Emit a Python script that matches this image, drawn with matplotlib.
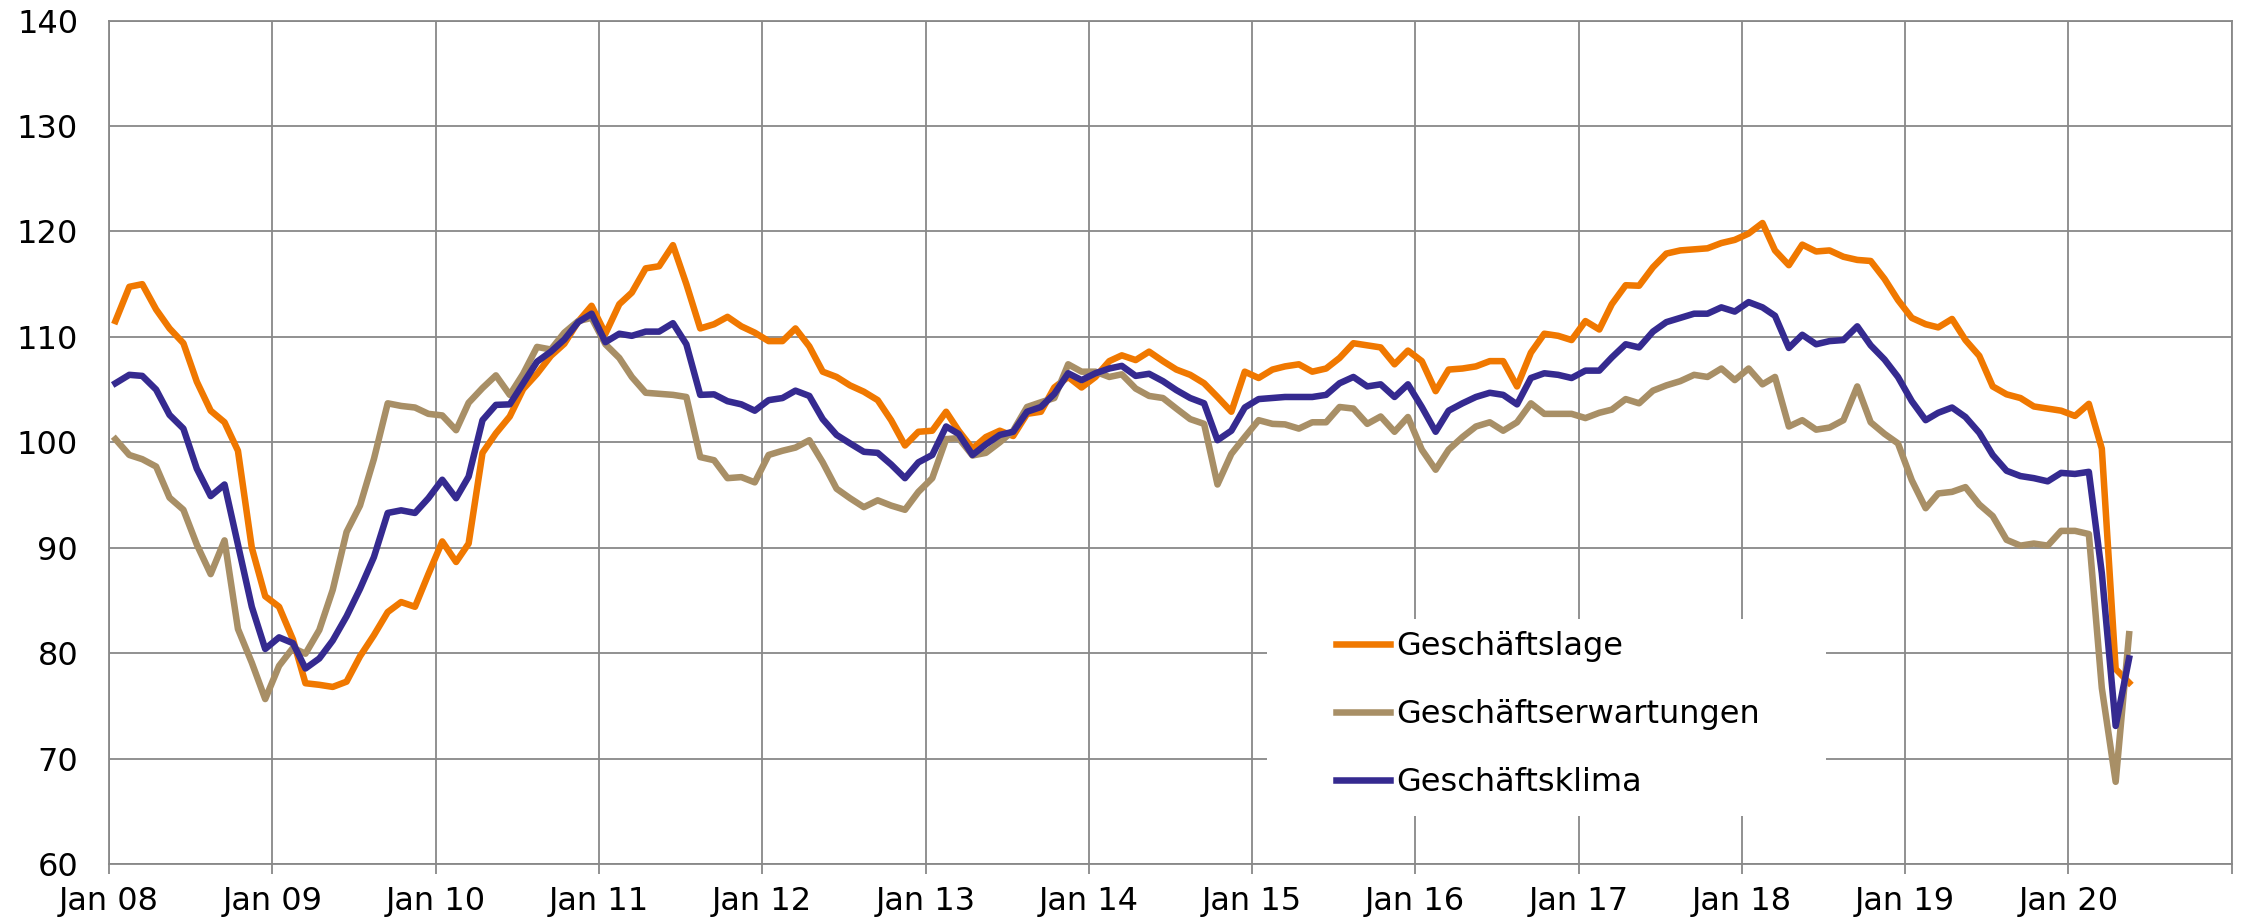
import pandas as pd
import matplotlib
matplotlib.use("Agg")
import matplotlib.pyplot as plt
from matplotlib.patches import Rectangle

# ifo-Werte, monatlich Jan 2008 - Mai 2020
lage = [
    111.5, 114.75, 115.0, 112.6, 110.8, 109.4, 105.75, 103.0, 101.9, 99.2, 90.0, 85.4,
    84.4, 81.3, 77.15, 77.0, 76.8, 77.3, 79.7, 81.7, 83.9, 84.85, 84.4, 87.5,
    90.6, 88.65, 90.4, 99.0, 100.85, 102.45, 105.05, 106.5, 108.2, 109.35, 111.45, 112.95,
    110.3, 113.1, 114.2, 116.5, 116.7, 118.7, 115.0, 110.8, 111.2, 111.9, 111.0, 110.4,
    109.6, 109.6, 110.8, 109.1, 106.7, 106.2, 105.4, 104.8, 104.0, 102.1, 99.7, 101.0,
    101.1, 102.9, 101.1, 99.4, 100.5, 101.1, 100.6, 102.7, 102.9, 105.2, 106.2, 105.2,
    106.2, 107.7, 108.25, 107.8, 108.6, 107.7, 106.9, 106.4, 105.6, 104.3, 102.9, 106.7,
    106.1, 106.9, 107.2, 107.4, 106.7, 107.0, 108.0, 109.4, 109.2, 109.0, 107.4, 108.7,
    107.7, 104.85, 106.9, 107.0, 107.2, 107.7, 107.7, 105.3, 108.5, 110.3, 110.1, 109.7,
    111.5, 110.7, 113.1, 114.9, 114.85, 116.6, 117.9, 118.2, 118.3, 118.4, 118.9, 119.2,
    119.8, 120.8, 118.2, 116.8, 118.75, 118.1, 118.2, 117.6, 117.3, 117.2, 115.5, 113.5,
    111.8, 111.2, 110.9, 111.7, 109.7, 108.2, 105.3, 104.55, 104.2, 103.4, 103.2, 103.0,
    102.5, 103.65, 99.4, 78.5, 77.2,
]
erwartungen = [
    100.3, 98.8, 98.4, 97.7, 94.75, 93.6, 90.3, 87.5, 90.7, 82.3, 79.1, 75.65,
    78.8, 80.5, 79.95, 82.2, 86.0, 91.5, 94.0, 98.4, 103.7, 103.45, 103.3, 102.7,
    102.55, 101.15, 103.75, 105.15, 106.35, 104.5, 106.5, 109.05, 108.8, 110.4, 111.5, 111.8,
    109.3, 108.0, 106.2, 104.7, 104.6, 104.5, 104.3, 98.6, 98.3, 96.6, 96.7, 96.2,
    98.8, 99.2, 99.5, 100.2, 98.1, 95.6, 94.7, 93.85, 94.5, 94.0, 93.6, 95.3,
    96.6, 100.3, 100.4, 98.75, 99.0, 100.0, 101.1, 103.35, 103.8, 104.2, 107.4, 106.7,
    106.7, 106.2, 106.45, 105.1, 104.4, 104.2, 103.2, 102.2, 101.75, 96.0, 98.9, 100.5,
    102.1, 101.75, 101.7, 101.3, 101.9, 101.9, 103.35, 103.2, 101.75, 102.45, 101.0, 102.4,
    99.3, 97.4, 99.3, 100.5, 101.5, 101.9, 101.1, 101.9, 103.7, 102.7, 102.7, 102.7,
    102.3, 102.8, 103.1, 104.1, 103.7, 104.9, 105.4, 105.8, 106.4, 106.2, 107.0, 105.9,
    107.0, 105.5, 106.2, 101.5, 102.1, 101.2, 101.4, 102.1, 105.3, 101.9, 100.8, 99.9,
    96.4, 93.75, 95.15, 95.3, 95.75, 94.1, 93.0, 90.75, 90.2, 90.4, 90.2, 91.6,
    91.6, 91.3, 76.7, 67.8, 81.8,
]
klima = [
    105.6, 106.4, 106.3, 105.0, 102.6, 101.3, 97.5, 94.9, 96.0, 90.3, 84.4, 80.4,
    81.5, 80.95, 78.55, 79.5, 81.2, 83.5, 86.1, 89.1, 93.3, 93.55, 93.3, 94.7,
    96.45, 94.7, 96.75, 102.1, 103.55, 103.6, 105.6, 107.65, 108.6, 109.75, 111.4, 112.2,
    109.5, 110.3, 110.1, 110.5, 110.5, 111.3, 109.3, 104.5, 104.55, 103.9, 103.6, 103.0,
    104.0, 104.2, 104.9, 104.4, 102.2, 100.7, 99.9, 99.1, 99.0, 97.9, 96.6, 98.1,
    98.8, 101.5, 100.8, 98.8, 99.8, 100.7, 101.0, 102.9, 103.35, 104.6, 106.55, 105.9,
    106.55, 107.0, 107.25, 106.3, 106.5, 105.8, 104.95, 104.2, 103.7, 100.2, 101.1, 103.3,
    104.1, 104.2, 104.3, 104.3, 104.3, 104.5, 105.6, 106.2, 105.3, 105.5, 104.3, 105.5,
    103.35, 101.0, 103.0, 103.7, 104.3, 104.7, 104.5, 103.6, 106.1, 106.55, 106.4, 106.1,
    106.8, 106.8, 108.05, 109.3, 109.0, 110.5, 111.4, 111.8, 112.2, 112.2, 112.8, 112.4,
    113.3, 112.8, 112.0, 108.95, 110.2, 109.3, 109.6, 109.7, 111.0, 109.2, 107.85, 106.2,
    103.9, 102.1, 102.8, 103.3, 102.4, 100.9, 98.8, 97.3, 96.8, 96.6, 96.3, 97.1,
    97.0, 97.2, 87.6, 73.1, 79.5,
]
tick_labels = ["Jan 08", "Jan 09", "Jan 10", "Jan 11", "Jan 12", "Jan 13", "Jan 14",
               "Jan 15", "Jan 16", "Jan 17", "Jan 18", "Jan 19", "Jan 20", ""]

# Punkte jeweils in der Monatsmitte
months = pd.date_range("2008-01-01", periods=len(klima), freq="MS") + pd.Timedelta(days=15)
years = pd.date_range("2008-01-01", "2021-01-01", freq="YS")

plt.rcParams["font.family"] = ["DejaVu Sans"]

fig = plt.figure(figsize=(22.42, 9.19), dpi=100)
ax = fig.add_axes([0.0485, 0.0598, 0.947, 0.9178])

grid_col = "#888888"
ax.plot(months, lage, color="#F07800", lw=4.7, label="Geschäftslage", zorder=3)
ax.plot(months, erwartungen, color="#A88F66", lw=4.7, label="Geschäftserwartungen", zorder=3)
ax.plot(months, klima, color="#352A90", lw=4.7, label="Geschäftsklima", zorder=4)

ax.set_xlim(years[0], years[-1])
ax.set_ylim(60, 140)
ax.set_yticks(range(60, 141, 10))
ax.set_xticks(years)
ax.set_xticklabels(tick_labels)

ax.set_axisbelow(True)
ax.grid(True, color=grid_col, lw=1.3)
for sp in ax.spines.values():
    sp.set_color(grid_col)
    sp.set_linewidth(1.3)
ax.tick_params(axis="x", length=7, width=1.3, color=grid_col, pad=9, labelsize=23)
ax.tick_params(axis="y", length=0, pad=22, labelsize=23)

# weisser Hintergrund fuer die Legende
ax.add_patch(Rectangle((0.5455, 0.057), 0.2633, 0.2335, transform=ax.transAxes,
                       facecolor="white", edgecolor="none", zorder=1))
ax.legend(loc="upper left", bbox_to_anchor=(0.578, 0.276), frameon=False,
          fontsize=23, handlelength=1.7, handletextpad=0.2, labelspacing=1.15,
          borderpad=0, borderaxespad=0)

fig.savefig("out.png", dpi=100)
